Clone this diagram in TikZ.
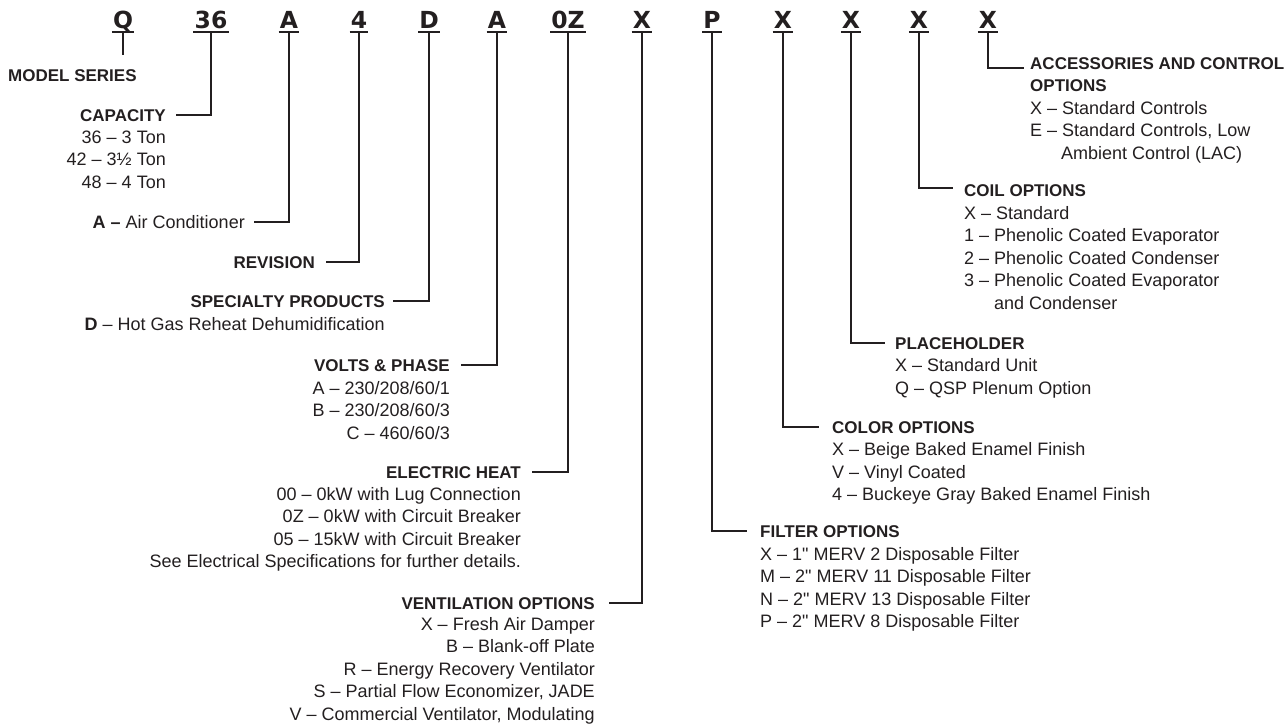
\documentclass[tikz,border=0pt]{standalone}
\usepackage{fontspec}
\setmainfont{Liberation Sans}
\newfontfamily\codefont{DejaVu Sans}
\definecolor{ink}{RGB}{35,31,32}
\newcommand{\inch}{\textquotedbl}
\begin{document}
\begin{tikzpicture}[x=1pt,y=-1pt,
  every node/.style={inner sep=0pt, text=ink},
  code/.style={font=\codefont\bfseries\fontsize{23.5}{28}\selectfont, anchor=base},
  head/.style={font=\bfseries\fontsize{17}{22.5}\selectfont},
  item/.style={font=\fontsize{18}{22.5}\selectfont},
  ln/.style={draw=ink, line width=2.1pt},
  ul/.style={draw=ink, line width=2pt}]
\useasboundingbox (0,0) rectangle (1288,726);
% code letters
\node[code] (cq)  at (123,28) {Q};
\node[code] (c36) at (211,28) {36};
\node[code] (ca)  at (289,28) {A};
\node[code] (c4)  at (359,28) {4};
\node[code] (cd)  at (429,28) {D};
\node[code] (cv)  at (497,28) {A};
\node[code] (cz)  at (568,28) {0Z};
\node[code] (cx1) at (642,28) {X};
\node[code] (cp)  at (712,28) {P};
\node[code] (cx2) at (783,28) {X};
\node[code] (cx3) at (851,28) {X};
\node[code] (cx4) at (919,28) {X};
\node[code] (cx5) at (988,28) {X};
\foreach \n in {cq,c36,ca,c4,cd,cv,cz,cx1,cp,cx2,cx3,cx4,cx5}
  \draw[ul] ([shift={(-1pt,-4pt)}]\n.base west) -- ([shift={(1pt,-4pt)}]\n.base east);

% left side
\node[head, anchor=base west] (model) at (8,81) {MODEL SERIES};
\draw[ln] ([yshift=-4pt]cq.base) -- ++(0,23) coordinate (qend);

\node[head, anchor=base east] (capacity) at (166,121) {CAPACITY};
\foreach [count=\i] \t in {36 – 3 Ton, 42 – 3½ Ton, 48 – 4 Ton}
  \node[item, anchor=base east] (cap\i) at (166,{143+22.5*(\i-1)}) {\t};
\draw[ln] ([yshift=-4pt]c36.base) |- ([xshift=10pt]capacity.east);

\node[item, anchor=base east] (aircond) at (245,228) {\textbf{A –} Air Conditioner};
\draw[ln] ([yshift=-4pt]ca.base) |- ([xshift=9pt]aircond.east);

\node[head, anchor=base east] (revision) at (315,268) {REVISION};
\draw[ln] ([yshift=-4pt]c4.base) |- ([xshift=11pt]revision.east);

\node[head, anchor=base east] (specialty) at (385,307) {SPECIALTY PRODUCTS};
\node[item, anchor=base east] (spec1) at (385,330) {\textbf{D} – Hot Gas Reheat Dehumidification};
\draw[ln] ([yshift=-4pt]cd.base) |- ([xshift=8pt]specialty.east);

\node[head, anchor=base east] (volts) at (450,371) {VOLTS \& PHASE};
\foreach [count=\i] \t in {A – 230/208/60/1, B – 230/208/60/3, C – 460/60/3}
  \node[item, anchor=base east] (volt\i) at (450,{394+22.5*(\i-1)}) {\t};
\draw[ln] ([yshift=-4pt]cv.base) |- ([xshift=11pt]volts.east);

\node[head, anchor=base east] (heat) at (521,478) {ELECTRIC HEAT};
\foreach [count=\i] \t in {00 – 0kW with Lug Connection, 0Z – 0kW with Circuit Breaker, 05 – 15kW with Circuit Breaker, See Electrical Specifications for further details.}
  \node[item, anchor=base east] (heat\i) at (521,{500+22.5*(\i-1)}) {\t};
\draw[ln] ([yshift=-4pt]cz.base) |- ([xshift=11pt]heat.east);

\node[head, anchor=base east] (vent) at (595,609) {VENTILATION OPTIONS};
\foreach [count=\i] \t in {X – Fresh Air Damper, B – Blank-off Plate, R – Energy Recovery Ventilator, {S – Partial Flow Economizer, JADE}, {V – Commercial Ventilator, Modulating}}
  \node[item, anchor=base east] (vent\i) at (595,{630+22.5*(\i-1)}) {\t};
\draw[ln] ([yshift=-4pt]cx1.base) |- ([xshift=14pt]vent.east);

% right side
\node[head, anchor=base west] (filter) at (760,537) {FILTER OPTIONS};
\foreach [count=\i] \t in {X – 1\inch{} MERV 2 Disposable Filter, M – 2\inch{} MERV 11 Disposable Filter, N – 2\inch{} MERV 13 Disposable Filter, P – 2\inch{} MERV 8 Disposable Filter}
  \node[item, anchor=base west] (filt\i) at (760,{560+22.5*(\i-1)}) {\t};
\draw[ln] ([yshift=-4pt]cp.base) |- ([xshift=-13pt]filter.west);

\node[head, anchor=base west] (color) at (832,433) {COLOR OPTIONS};
\foreach [count=\i] \t in {X – Beige Baked Enamel Finish, V – Vinyl Coated, 4 – Buckeye Gray Baked Enamel Finish}
  \node[item, anchor=base west] (col\i) at (832,{455.5+22.5*(\i-1)}) {\t};
\draw[ln] ([yshift=-4pt]cx2.base) |- ([xshift=-13pt]color.west);

\node[head, anchor=base west] (place) at (895,349) {PLACEHOLDER};
\foreach [count=\i] \t in {X – Standard Unit, Q – QSP Plenum Option}
  \node[item, anchor=base west] (plc\i) at (895,{371.5+22.5*(\i-1)}) {\t};
\draw[ln] ([yshift=-4pt]cx3.base) |- ([xshift=-10pt]place.west);

\node[head, anchor=base west] (coil) at (964,196) {COIL OPTIONS};
\foreach [count=\i] \t in {X – Standard, 1 – Phenolic Coated Evaporator, 2 – Phenolic Coated Condenser, 3 – Phenolic Coated Evaporator}
  \node[item, anchor=base west] (coil\i) at (964,{219+22.5*(\i-1)}) {\t};
\node[item, anchor=base west] (coil5) at (994,309) {and Condenser};
\draw[ln] ([yshift=-4pt]cx4.base) |- ([xshift=-11pt,yshift=2pt]coil.west);

\node[head, anchor=base west] (acc) at (1030,69) {ACCESSORIES AND CONTROL};
\node[head, anchor=base west] (acc2) at (1030,91.5) {OPTIONS};
\node[item, anchor=base west] (acci1) at (1030,114) {X – Standard Controls};
\node[item, anchor=base west] (acci2) at (1030,136.5) {E – Standard Controls, Low};
\node[item, anchor=base west] (acci3) at (1061,159) {Ambient Control (LAC)};
\draw[ln] ([yshift=-4pt]cx5.base) |- ([xshift=-6pt,yshift=-5pt]acc.west);
\end{tikzpicture}
\end{document}
